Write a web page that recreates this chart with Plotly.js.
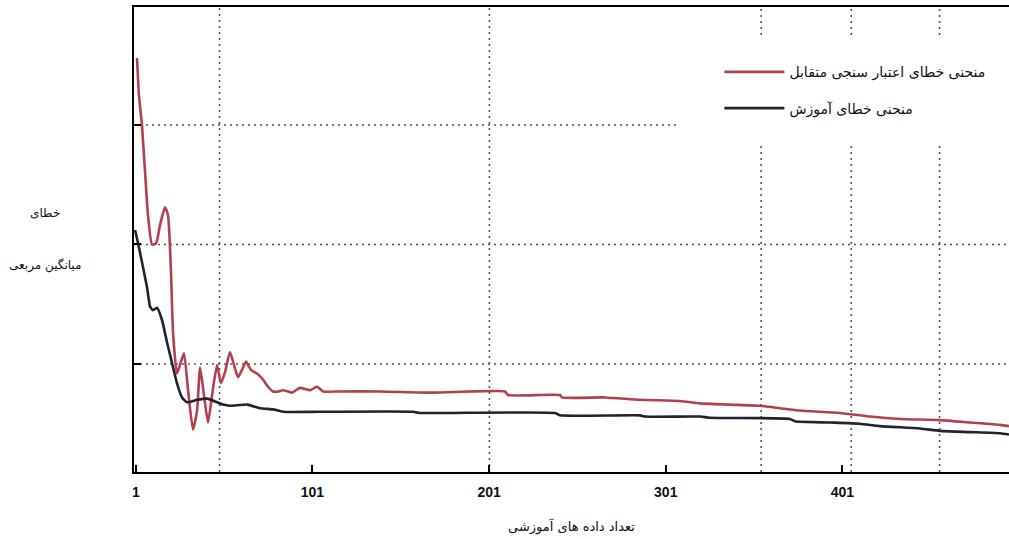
<!DOCTYPE html>
<html>
<head>
<meta charset="utf-8">
<script src="https://cdn.plot.ly/plotly-3.0.1.min.js"></script>
<style>html,body{margin:0;padding:0;background:#fff;}#chart{width:1009px;height:539px;}</style>
</head>
<body>
<div id="chart"></div>
<script>
// Cross-validation error curve (red)
const valX = [1.7,2.8,4.5,6.2,7.9,10.2,12.5,14.7,17.5,19.2,20.9,22.1,24.3,26.0,28.3,30.6,33.4,35.7,37.4,39.6,41.9,44.2,47.0,49.2,51.5,54.3,56.6,58.9,61.1,63.4,66.2,69.6,73.0,75.3,78.7,81.5,84.3,87.2,89.4,94.0,99.6,103.6,107.0,116.6,139.2,169.2,210.0,211.7,241.1,242.3,266.6,286.4,309.1,320.4,337.4,354.3,365.7,377.0,399.6,416.6,433.6,456.2,473.2,490.2,495.3];
const valY = [3.56,3.25,3.00,2.62,2.25,2.00,2.01,2.16,2.31,2.25,1.79,1.26,0.92,0.99,1.09,0.78,0.45,0.61,0.97,0.74,0.51,0.74,0.99,0.84,0.93,1.10,0.99,0.89,0.95,1.02,0.95,0.92,0.87,0.82,0.77,0.77,0.78,0.77,0.76,0.80,0.78,0.81,0.77,0.77,0.77,0.76,0.77,0.74,0.74,0.72,0.72,0.70,0.69,0.67,0.66,0.65,0.63,0.61,0.59,0.56,0.54,0.53,0.51,0.49,0.48];
// Training error curve (black)
const trX = [0.6,2.3,5.1,7.4,9.1,10.8,13.0,15.8,18.7,21.5,24.3,27.2,30.0,35.7,41.3,47.0,50.4,54.3,64.0,71.3,78.7,84.3,105.3,157.9,161.9,238.3,241.1,286.4,289.2,320.4,326.0,371.3,374.1,394.0,410.9,422.3,444.9,456.2,473.2,490.2,495.3];
const trY = [2.12,2.01,1.81,1.64,1.48,1.45,1.47,1.37,1.18,1.01,0.84,0.72,0.68,0.70,0.71,0.68,0.66,0.65,0.66,0.63,0.62,0.60,0.60,0.60,0.59,0.59,0.57,0.57,0.56,0.56,0.55,0.54,0.52,0.51,0.50,0.48,0.46,0.44,0.43,0.42,0.41];

const xTickVals = [1,101,201,301,401];
const xTickText = ['1','101','201','301','401'];
const xGridVals = [48.4,201.2,355,406,456];
const yGridVals = [1,2,3];

const seriesNames = ['منحنی خطای اعتبار سنجی متقابل','منحنی خطای آموزش'];
const xTitle = 'تعداد داده های آموزشی';
const yTitleLines = ['خطای','میانگین مربعی'];

const arabicFont = 'DejaVu Sans, Noto Sans, sans-serif';

// Legend area (paper fractions) in which the dotted grid is interrupted
const legBoxX0 = (680-134)/875;
const legBoxY0 = (472-145)/465;
const legBoxY1 = (472-35)/465;
const gridLine = {color:'#555', width:1.6, dash:'2px,4px'};

const shapes = [];
xGridVals.forEach(function(v){
  if (v >= 309) {
    shapes.push({type:'line', xref:'x', yref:'paper', x0:v, x1:v, y0:0, y1:legBoxY0, line:gridLine, layer:'below'});
    shapes.push({type:'line', xref:'x', yref:'paper', x0:v, x1:v, y0:legBoxY1, y1:1, line:gridLine, layer:'below'});
  } else {
    shapes.push({type:'line', xref:'x', yref:'paper', x0:v, x1:v, y0:0, y1:1, line:gridLine, layer:'below'});
  }
});
yGridVals.forEach(function(v){
  const inLegend = v > 2.5;
  shapes.push({type:'line', xref:'paper', yref:'y', x0:0, x1:inLegend ? legBoxX0 : 1, y0:v, y1:v, line:gridLine, layer:'below'});
});

const traces = [
  {x: valX, y: valY, type:'scatter', mode:'lines', name: seriesNames[0], legendgroup:'a',
   line:{color:'#b3404f', width:2.6, shape:'spline', smoothing:0.5}},
  {x: trX, y: trY, type:'scatter', mode:'lines', name: seriesNames[1], legendgroup:'b',
   line:{color:'#23222f', width:2.6, shape:'spline', smoothing:0.5}}
];

const layout = {
  width:1009, height:539,
  margin:{l:134, r:0, t:7, b:67},
  paper_bgcolor:'#fff', plot_bgcolor:'#fff',
  showlegend:true,
  legend:{x:0.669, xanchor:'left', y:0.894, yanchor:'top', bgcolor:'rgba(0,0,0,0)',
          font:{family:arabicFont, size:14, color:'#111'}, traceorder:'grouped', tracegroupgap:15, itemwidth:60},
  xaxis:{range:[0,495.3], tickmode:'array', tickvals:xTickVals, ticktext:xTickText,
         ticks:'inside', ticklen:7, tickwidth:2, tickcolor:'#000',
         showline:true, linecolor:'#000', linewidth:2, mirror:true,
         showgrid:false, zeroline:false, ticklabelstandoff:6,
         tickfont:{family:'Liberation Sans, Arial, sans-serif', size:14, color:'#111', weight:'bold'},
         title:{text:xTitle, font:{family:arabicFont, size:13, color:'#111'}, standoff:23}},
  yaxis:{range:[0.096,3.987], tickmode:'array', tickvals:yGridVals, showticklabels:false,
         ticks:'inside', ticklen:7, tickwidth:2, tickcolor:'#000',
         showline:true, linecolor:'#000', linewidth:2, mirror:false, zeroline:false,
         showgrid:false},
  shapes: shapes,
  annotations:[
    {xref:'paper', yref:'paper', x:(45-134)/875, y:(472-213)/465, text:yTitleLines[0], showarrow:false,
     xanchor:'center', yanchor:'middle', font:{family:arabicFont, size:12, color:'#111'}},
    {xref:'paper', yref:'paper', x:(45-134)/875, y:(472-265)/465, text:yTitleLines[1], showarrow:false,
     xanchor:'center', yanchor:'middle', font:{family:arabicFont, size:12, color:'#111'}}
  ]
};

Plotly.newPlot('chart', traces, layout, {displayModeBar:false, staticPlot:true});
</script>
</body>
</html>
